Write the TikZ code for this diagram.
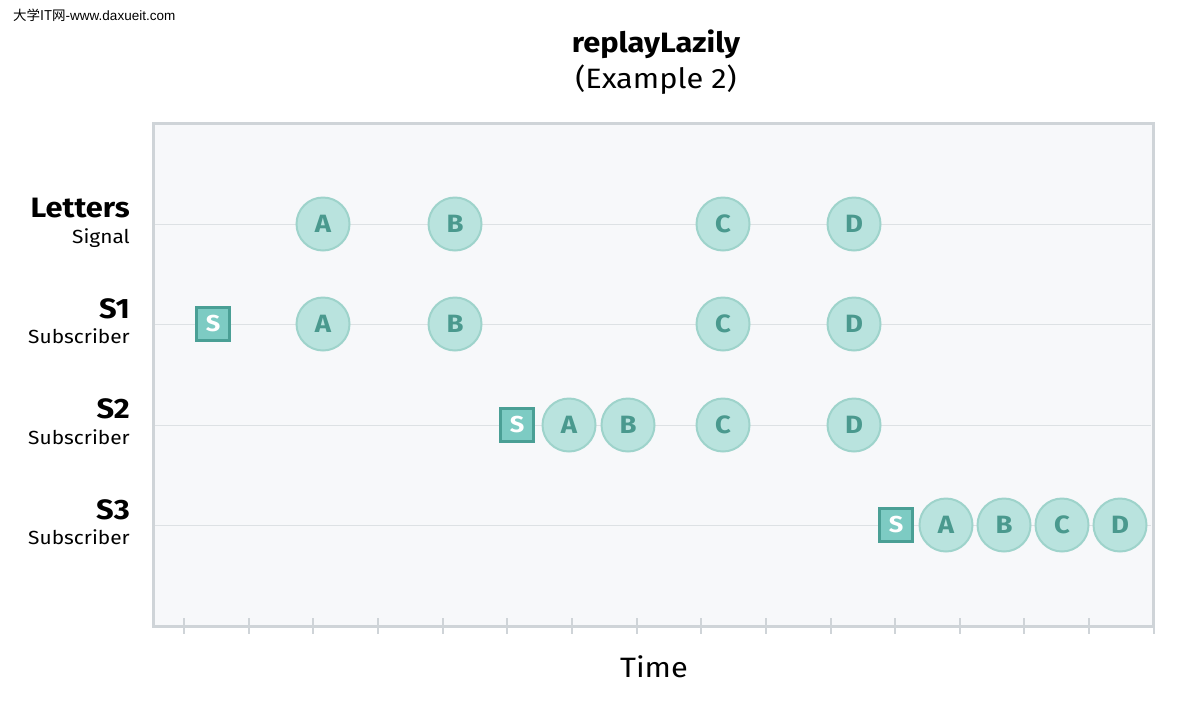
\documentclass[tikz,border=0pt]{standalone}
\usepackage{fontspec}
\setmainfont[FakeStretch=1.1]{Fira Sans}
\newfontfamily\cjkfont{Noto Sans CJK SC}
\newfontfamily\wmfont{Liberation Sans}
\definecolor{framec}{HTML}{CFD4D8}
\definecolor{panelc}{HTML}{F7F8FA}
\definecolor{rowc}{HTML}{DDE1E4}
\definecolor{evfill}{HTML}{B9E3DE}
\definecolor{evdraw}{HTML}{9ED3CB}
\definecolor{evtext}{HTML}{4A998E}
\definecolor{subfill}{HTML}{7DCBC3}
\definecolor{subdraw}{HTML}{4A9F95}
\tikzset{
  ev/.style={circle, fill=evfill, draw=evdraw, line width=2pt, minimum size=53pt, inner sep=0pt,
     text=evtext, font=\fontsize{25}{25}\selectfont\bfseries},
  subbox/.style={rectangle, fill=subfill, draw=subdraw, line width=2.2pt, minimum size=33pt, inner sep=0pt,
     text=white, font=\fontsize{23}{23}\selectfont\bfseries},
  rowline/.style={draw=rowc, line width=1pt},
  tick/.style={draw=framec, line width=2pt},
  bigname/.style={anchor=base east, font=\fontsize{28}{28}\selectfont\bfseries, inner sep=0pt},
  smallname/.style={anchor=base east, font=\fontsize{19}{19}\selectfont, inner sep=0pt},
}
\begin{document}
\begin{tikzpicture}[x=1pt,y=-1pt]
\useasboundingbox (0,0) rectangle (1180,710);
\fill[white] (0,0) rectangle (1180,710);
% watermark
\node[anchor=base west, inner sep=0pt, font=\fontsize{13.5}{13.5}\selectfont] (wm) at (13,20) {{\cjkfont 大学IT网}{\wmfont -www.daxueit.com}};
% title
\node[font=\fontsize{28}{28}\selectfont\bfseries, inner sep=0pt, anchor=base] (title) at (656,52) {replayLazily};
\node[font=\fontsize{28}{28}\selectfont, inner sep=0pt, anchor=base] (sub) at (656,88) {(Example 2)};
% panel
\fill[panelc] (153,123) rectangle (1153,626);
% ticks
\foreach \i in {0,...,15} {
  \draw[tick] ({184+64.65*\i},618) -- ({184+64.65*\i},634);
}
\draw[framec, line width=3pt] (153,123) rectangle (1153,626);
% rows
\foreach \n/\y in {r1/224, r2/324, r3/425, r4/525} {
  \coordinate (\n L) at (155,\y);
  \coordinate (\n R) at (1151,\y);
  \draw[rowline] (\n L) -- (\n R);
}
% labels
\node[bigname] (lab1) at (130,217) {Letters};
\node[smallname] (lab1s) at (130,243) {Signal};
\node[bigname] (lab2) at (130,318) {S1};
\node[smallname] (lab2s) at (130,343) {Subscriber};
\node[bigname] (lab3) at (130,418) {S2};
\node[smallname] (lab3s) at (130,444) {Subscriber};
\node[bigname] (lab4) at (130,519) {S3};
\node[smallname] (lab4s) at (130,544) {Subscriber};
% Letters signal
\node[ev] (lA) at (323,224) {A};
\node[ev] (lB) at (455,224) {B};
\node[ev] (lC) at (723,224) {C};
\node[ev] (lD) at (854,224) {D};
% S1
\node[subbox] (s1S) at (213,324) {S};
\node[ev] (s1A) at (323,324) {A};
\node[ev] (s1B) at (455,324) {B};
\node[ev] (s1C) at (723,324) {C};
\node[ev] (s1D) at (854,324) {D};
% S2
\node[subbox] (s2S) at (517,425) {S};
\node[ev] (s2A) at (569,425) {A};
\node[ev] (s2B) at (628,425) {B};
\node[ev] (s2C) at (723,425) {C};
\node[ev] (s2D) at (854,425) {D};
% S3
\node[subbox] (s3S) at (896,525) {S};
\node[ev] (s3A) at (946,525) {A};
\node[ev] (s3B) at (1004,525) {B};
\node[ev] (s3C) at (1062,525) {C};
\node[ev] (s3D) at (1120,525) {D};
% time
\node[font=\fontsize{28}{28}\selectfont, inner sep=0pt, anchor=base] (time) at (654,677) {Time};
\end{tikzpicture}
\end{document}
